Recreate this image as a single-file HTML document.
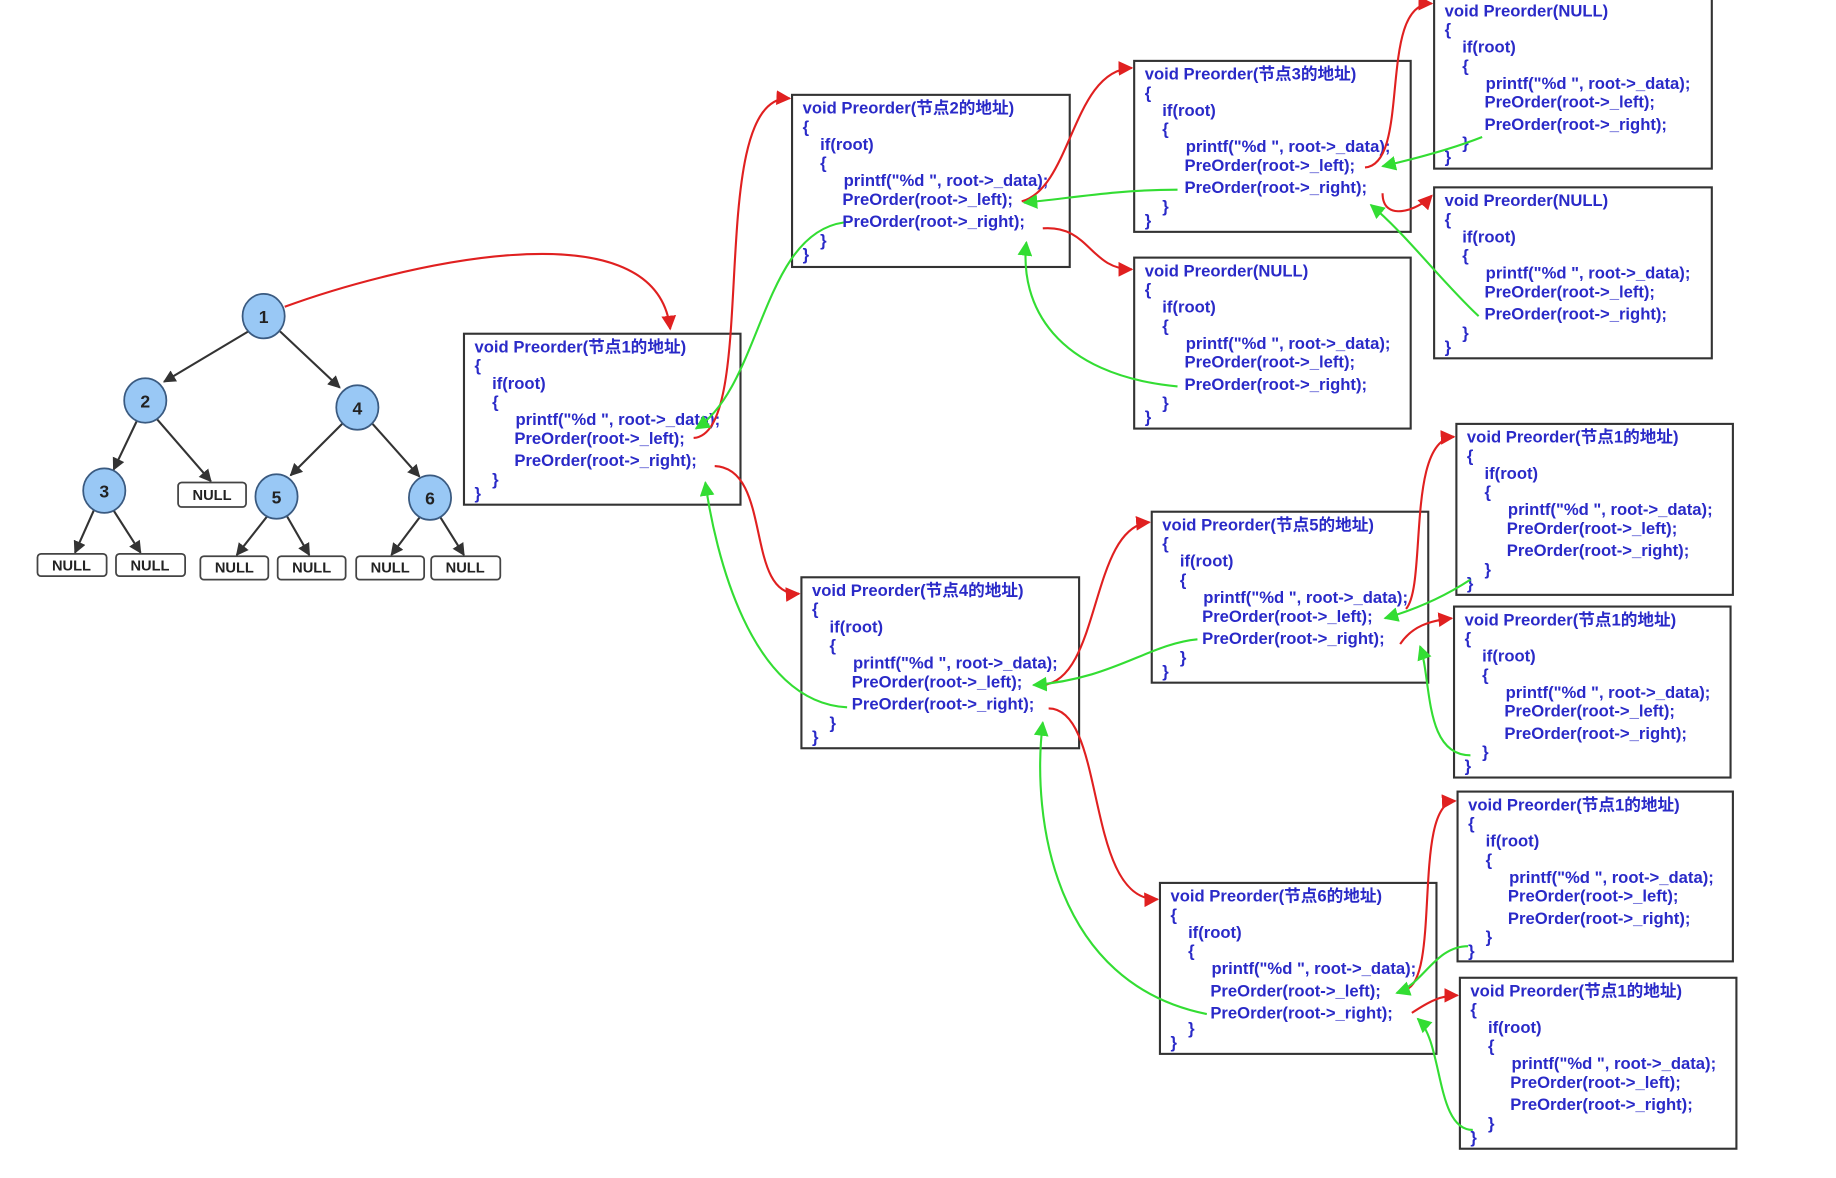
<!DOCTYPE html>
<html><head><meta charset="utf-8"><style>
html,body{margin:0;padding:0;background:#fff;}
svg{display:block}
.c{font-family:"Liberation Sans","Noto Sans CJK SC",sans-serif;font-size:14.2px;font-weight:bold;fill:#2a2ac8}
.bx{fill:#fff;stroke:#333;stroke-width:1.8}
.r{fill:none;stroke:#e02020;stroke-width:1.8}
.g{fill:none;stroke:#33dd33;stroke-width:1.8}
.e{stroke:#333;stroke-width:1.8}
.n{fill:#99c8f5;stroke:#3a5a80;stroke-width:1.5}
.nt{font-family:"Liberation Sans",sans-serif;font-size:15px;font-weight:bold;fill:#222;text-anchor:middle}
.nb{fill:#fff;stroke:#444;stroke-width:1.5}
.nl{font-family:"Liberation Sans",sans-serif;font-size:12.5px;font-weight:bold;fill:#222;text-anchor:middle}
</style></head><body>
<svg width="1836" height="1178" viewBox="0 0 1567 1006" preserveAspectRatio="none">
<defs>
<marker id="ar" viewBox="0 0 10 10" refX="9" refY="5" markerWidth="7" markerHeight="7" orient="auto-start-reverse"><path d="M0,0L10,5L0,10z" fill="#e02020"/></marker>
<marker id="ag" viewBox="0 0 10 10" refX="9" refY="5" markerWidth="7" markerHeight="7" orient="auto-start-reverse"><path d="M0,0L10,5L0,10z" fill="#33dd33"/></marker>
<marker id="ak" viewBox="0 0 10 10" refX="9" refY="5" markerWidth="6" markerHeight="6" orient="auto"><path d="M0,0L10,5L0,10z" fill="#333"/></marker>
</defs>

<g class="e" marker-end="url(#ak)">
<line x1="212" y1="283" x2="140" y2="326"/>
<line x1="239" y1="283" x2="290" y2="331"/>
<line x1="117" y1="359" x2="97" y2="401"/>
<line x1="134" y1="358" x2="180" y2="411"/>
<line x1="292" y1="362" x2="248" y2="406"/>
<line x1="318" y1="362" x2="358" y2="407"/>
<line x1="80" y1="436" x2="64" y2="472"/>
<line x1="97" y1="436" x2="120" y2="472"/>
<line x1="228" y1="441" x2="202" y2="474"/>
<line x1="245" y1="441" x2="264" y2="474"/>
<line x1="358" y1="442" x2="334" y2="474"/>
<line x1="376" y1="442" x2="396" y2="474"/>
</g>
<g>
<ellipse class="n" cx="225" cy="270" rx="18" ry="19"/><text class="nt" x="225" y="276">1</text>
<ellipse class="n" cx="124" cy="342" rx="18" ry="19"/><text class="nt" x="124" y="348">2</text>
<ellipse class="n" cx="305" cy="348" rx="18" ry="19"/><text class="nt" x="305" y="354">4</text>
<ellipse class="n" cx="89" cy="419" rx="18" ry="19"/><text class="nt" x="89" y="425">3</text>
<ellipse class="n" cx="236" cy="424" rx="18" ry="19"/><text class="nt" x="236" y="430">5</text>
<ellipse class="n" cx="367" cy="425" rx="18" ry="19"/><text class="nt" x="367" y="431">6</text>
</g>
<g>
<rect class="nb" x="152" y="412" width="58" height="21" rx="3"/><text class="nl" x="181" y="427">NULL</text>
<rect class="nb" x="32" y="473" width="59" height="19" rx="3"/><text class="nl" x="61" y="487">NULL</text>
<rect class="nb" x="99" y="473" width="59" height="19" rx="3"/><text class="nl" x="128" y="487">NULL</text>
<rect class="nb" x="171" y="475" width="58" height="20" rx="3"/><text class="nl" x="200" y="489">NULL</text>
<rect class="nb" x="237" y="475" width="58" height="20" rx="3"/><text class="nl" x="266" y="489">NULL</text>
<rect class="nb" x="304" y="475" width="58" height="20" rx="3"/><text class="nl" x="333" y="489">NULL</text>
<rect class="nb" x="368" y="475" width="59" height="20" rx="3"/><text class="nl" x="397" y="489">NULL</text>
</g>

<g transform="translate(396,285)"><rect class="bx" width="236" height="146"/><text class="c"><tspan x="9" y="16">void Preorder(节点1的地址)</tspan><tspan x="9" y="32">{</tspan><tspan x="24" y="47">if(root)</tspan><tspan x="24" y="63">{</tspan><tspan x="44" y="78">printf("%d ", root-&gt;_data);</tspan><tspan x="43" y="94">PreOrder(root-&gt;_left);</tspan><tspan x="43" y="113">PreOrder(root-&gt;_right);</tspan><tspan x="24" y="129">}</tspan><tspan x="9" y="141">}</tspan></text></g>
<g transform="translate(676,81)"><rect class="bx" width="237" height="147"/><text class="c"><tspan x="9" y="16">void Preorder(节点2的地址)</tspan><tspan x="9" y="32">{</tspan><tspan x="24" y="47">if(root)</tspan><tspan x="24" y="63">{</tspan><tspan x="44" y="78">printf("%d ", root-&gt;_data);</tspan><tspan x="43" y="94">PreOrder(root-&gt;_left);</tspan><tspan x="43" y="113">PreOrder(root-&gt;_right);</tspan><tspan x="24" y="129">}</tspan><tspan x="9" y="141">}</tspan></text></g>
<g transform="translate(968,52)"><rect class="bx" width="236" height="146"/><text class="c"><tspan x="9" y="16">void Preorder(节点3的地址)</tspan><tspan x="9" y="32">{</tspan><tspan x="24" y="47">if(root)</tspan><tspan x="24" y="63">{</tspan><tspan x="44" y="78">printf("%d ", root-&gt;_data);</tspan><tspan x="43" y="94">PreOrder(root-&gt;_left);</tspan><tspan x="43" y="113">PreOrder(root-&gt;_right);</tspan><tspan x="24" y="129">}</tspan><tspan x="9" y="141">}</tspan></text></g>
<g transform="translate(968,220)"><rect class="bx" width="236" height="146"/><text class="c"><tspan x="9" y="16">void Preorder(NULL)</tspan><tspan x="9" y="32">{</tspan><tspan x="24" y="47">if(root)</tspan><tspan x="24" y="63">{</tspan><tspan x="44" y="78">printf("%d ", root-&gt;_data);</tspan><tspan x="43" y="94">PreOrder(root-&gt;_left);</tspan><tspan x="43" y="113">PreOrder(root-&gt;_right);</tspan><tspan x="24" y="129">}</tspan><tspan x="9" y="141">}</tspan></text></g>
<g transform="translate(1224,-2)"><rect class="bx" width="237" height="146"/><text class="c"><tspan x="9" y="16">void Preorder(NULL)</tspan><tspan x="9" y="32">{</tspan><tspan x="24" y="47">if(root)</tspan><tspan x="24" y="63">{</tspan><tspan x="44" y="78">printf("%d ", root-&gt;_data);</tspan><tspan x="43" y="94">PreOrder(root-&gt;_left);</tspan><tspan x="43" y="113">PreOrder(root-&gt;_right);</tspan><tspan x="24" y="129">}</tspan><tspan x="9" y="141">}</tspan></text></g>
<g transform="translate(1224,160)"><rect class="bx" width="237" height="146"/><text class="c"><tspan x="9" y="16">void Preorder(NULL)</tspan><tspan x="9" y="32">{</tspan><tspan x="24" y="47">if(root)</tspan><tspan x="24" y="63">{</tspan><tspan x="44" y="78">printf("%d ", root-&gt;_data);</tspan><tspan x="43" y="94">PreOrder(root-&gt;_left);</tspan><tspan x="43" y="113">PreOrder(root-&gt;_right);</tspan><tspan x="24" y="129">}</tspan><tspan x="9" y="141">}</tspan></text></g>
<g transform="translate(684,493)"><rect class="bx" width="237" height="146"/><text class="c"><tspan x="9" y="16">void Preorder(节点4的地址)</tspan><tspan x="9" y="32">{</tspan><tspan x="24" y="47">if(root)</tspan><tspan x="24" y="63">{</tspan><tspan x="44" y="78">printf("%d ", root-&gt;_data);</tspan><tspan x="43" y="94">PreOrder(root-&gt;_left);</tspan><tspan x="43" y="113">PreOrder(root-&gt;_right);</tspan><tspan x="24" y="129">}</tspan><tspan x="9" y="141">}</tspan></text></g>
<g transform="translate(983,437)"><rect class="bx" width="236" height="146"/><text class="c"><tspan x="9" y="16">void Preorder(节点5的地址)</tspan><tspan x="9" y="32">{</tspan><tspan x="24" y="47">if(root)</tspan><tspan x="24" y="63">{</tspan><tspan x="44" y="78">printf("%d ", root-&gt;_data);</tspan><tspan x="43" y="94">PreOrder(root-&gt;_left);</tspan><tspan x="43" y="113">PreOrder(root-&gt;_right);</tspan><tspan x="24" y="129">}</tspan><tspan x="9" y="141">}</tspan></text></g>
<g transform="translate(1243,362)"><rect class="bx" width="236" height="146"/><text class="c"><tspan x="9" y="16">void Preorder(节点1的地址)</tspan><tspan x="9" y="32">{</tspan><tspan x="24" y="47">if(root)</tspan><tspan x="24" y="63">{</tspan><tspan x="44" y="78">printf("%d ", root-&gt;_data);</tspan><tspan x="43" y="94">PreOrder(root-&gt;_left);</tspan><tspan x="43" y="113">PreOrder(root-&gt;_right);</tspan><tspan x="24" y="129">}</tspan><tspan x="9" y="141">}</tspan></text></g>
<g transform="translate(1241,518)"><rect class="bx" width="236" height="146"/><text class="c"><tspan x="9" y="16">void Preorder(节点1的地址)</tspan><tspan x="9" y="32">{</tspan><tspan x="24" y="47">if(root)</tspan><tspan x="24" y="63">{</tspan><tspan x="44" y="78">printf("%d ", root-&gt;_data);</tspan><tspan x="43" y="94">PreOrder(root-&gt;_left);</tspan><tspan x="43" y="113">PreOrder(root-&gt;_right);</tspan><tspan x="24" y="129">}</tspan><tspan x="9" y="141">}</tspan></text></g>
<g transform="translate(990,754)"><rect class="bx" width="236" height="146"/><text class="c"><tspan x="9" y="16">void Preorder(节点6的地址)</tspan><tspan x="9" y="32">{</tspan><tspan x="24" y="47">if(root)</tspan><tspan x="24" y="63">{</tspan><tspan x="44" y="78">printf("%d ", root-&gt;_data);</tspan><tspan x="43" y="97">PreOrder(root-&gt;_left);</tspan><tspan x="43" y="116">PreOrder(root-&gt;_right);</tspan><tspan x="24" y="129">}</tspan><tspan x="9" y="141">}</tspan></text></g>
<g transform="translate(1244,676)"><rect class="bx" width="235" height="145"/><text class="c"><tspan x="9" y="16">void Preorder(节点1的地址)</tspan><tspan x="9" y="32">{</tspan><tspan x="24" y="47">if(root)</tspan><tspan x="24" y="63">{</tspan><tspan x="44" y="78">printf("%d ", root-&gt;_data);</tspan><tspan x="43" y="94">PreOrder(root-&gt;_left);</tspan><tspan x="43" y="113">PreOrder(root-&gt;_right);</tspan><tspan x="24" y="129">}</tspan><tspan x="9" y="141">}</tspan></text></g>
<g transform="translate(1246,835)"><rect class="bx" width="236" height="146"/><text class="c"><tspan x="9" y="16">void Preorder(节点1的地址)</tspan><tspan x="9" y="32">{</tspan><tspan x="24" y="47">if(root)</tspan><tspan x="24" y="63">{</tspan><tspan x="44" y="78">printf("%d ", root-&gt;_data);</tspan><tspan x="43" y="94">PreOrder(root-&gt;_left);</tspan><tspan x="43" y="113">PreOrder(root-&gt;_right);</tspan><tspan x="24" y="129">}</tspan><tspan x="9" y="141">}</tspan></text></g>

<g class="r" marker-end="url(#ar)">
<path d="M243,262 C330,230 560,170 572,281"/>
<path d="M592,374 C650,370 600,80 674,84"/>
<path d="M610,398 C660,400 635,510 682,507"/>
<path d="M872,172 C915,160 915,60 966,58"/>
<path d="M890,195 C930,192 930,230 966,230"/>
<path d="M1165,143 C1205,140 1175,2 1222,3"/>
<path d="M1180,165 C1180,190 1210,180 1222,167"/>
<path d="M890,585 C940,580 930,450 981,446"/>
<path d="M895,605 C945,605 925,770 988,768"/>
<path d="M1200,520 C1218,500 1200,375 1241,373"/>
<path d="M1195,550 C1205,535 1220,530 1239,528"/>
<path d="M1200,845 C1230,835 1205,686 1242,684"/>
<path d="M1205,865 C1220,855 1230,850 1244,850"/>
</g>
<g class="g" marker-end="url(#ag)">
<path d="M720,190 C650,200 650,330 594,366"/>
<path d="M723,604 C640,600 610,470 602,412"/>
<path d="M1005,162 C950,162 910,170 874,173"/>
<path d="M1005,330 C900,320 870,260 876,207"/>
<path d="M1265,117 C1240,127 1210,135 1180,142"/>
<path d="M1262,270 C1230,240 1200,200 1170,175"/>
<path d="M1022,546 C980,550 950,580 882,585"/>
<path d="M1030,866 C900,840 880,700 890,617"/>
<path d="M1255,495 C1235,508 1210,520 1182,528"/>
<path d="M1255,645 C1215,645 1222,580 1212,552"/>
<path d="M1253,808 C1225,808 1215,840 1192,848"/>
<path d="M1257,965 C1225,965 1232,890 1210,870"/>
</g>
</svg>
</body></html>
